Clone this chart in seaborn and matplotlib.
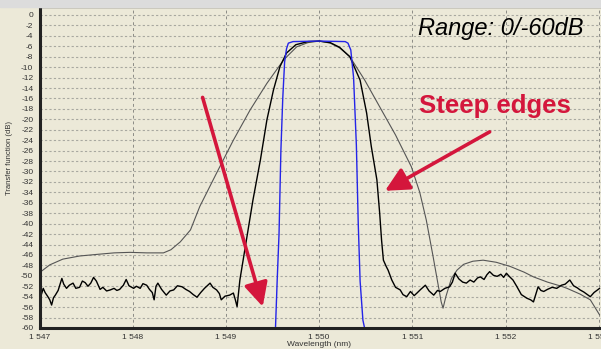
import numpy as np
import pandas as pd
import seaborn as sns
import matplotlib.pyplot as plt
from matplotlib.ticker import MultipleLocator, FuncFormatter

# Gaussian-like (wide) filter response
wide_wl = [1547.00, 1547.11, 1547.25, 1547.43, 1547.61, 1547.80, 1547.97, 1548.15, 1548.33,
           1548.41, 1548.51, 1548.62, 1548.72, 1548.81, 1548.90, 1549.08, 1549.26, 1549.44,
           1549.62, 1549.76, 1549.88, 1550.00, 1550.12, 1550.22, 1550.33, 1550.49, 1550.65,
           1550.82, 1550.99, 1551.08, 1551.15, 1551.22, 1551.27, 1551.31, 1551.33, 1551.36,
           1551.42, 1551.48, 1551.55, 1551.65, 1551.76, 1551.90, 1552.05, 1552.20, 1552.30,
           1552.45, 1552.60, 1552.66, 1552.80, 1552.91, 1553.01]
wide_db = [-49.4, -47.9, -46.8, -46.2, -45.9, -45.6, -45.5, -45.6, -45.6,
           -45.0, -43.5, -41.2, -36.7, -33.5, -30.3, -24.0, -18.2, -13.1,
           -8.6, -6.1, -5.3, -5.0, -5.4, -6.3, -8.0, -12.5, -17.6,
           -23.0, -29.1, -34.0, -39.3, -46.0, -51.0, -55.0, -56.2, -54.0,
           -50.5, -48.9, -47.8, -47.2, -47.0, -47.4, -48.2, -49.3, -50.2,
           -51.2, -52.0, -52.4, -53.5, -54.6, -57.5]

# Steep-edged filter response (measured, with noise floor)
steep_wl = [1547.00, 1547.02, 1547.04, 1547.06, 1547.09, 1547.11, 1547.13, 1547.15, 1547.17,
            1547.20, 1547.24, 1547.26, 1547.29, 1547.32, 1547.36, 1547.39, 1547.43, 1547.46,
            1547.49, 1547.52, 1547.55, 1547.58, 1547.61, 1547.65, 1547.68, 1547.72, 1547.76,
            1547.80, 1547.83, 1547.86, 1547.90, 1547.93, 1547.96, 1548.01, 1548.04, 1548.08,
            1548.11, 1548.15, 1548.18, 1548.21, 1548.23, 1548.25, 1548.27, 1548.31, 1548.36,
            1548.40, 1548.44, 1548.48, 1548.53, 1548.57, 1548.61, 1548.65, 1548.69, 1548.73,
            1548.77, 1548.83, 1548.86, 1548.90, 1548.93, 1548.95, 1548.99, 1549.04, 1549.08,
            1549.10, 1549.12, 1549.15, 1549.22, 1549.29, 1549.37, 1549.44, 1549.51, 1549.58,
            1549.65, 1549.75, 1549.88, 1550.00, 1550.12, 1550.22, 1550.33, 1550.44, 1550.51,
            1550.56, 1550.62, 1550.65, 1550.67, 1550.69, 1550.72, 1550.74, 1550.78, 1550.82,
            1550.87, 1550.90, 1550.94, 1550.98, 1551.02, 1551.05, 1551.09, 1551.14, 1551.18,
            1551.23, 1551.27, 1551.30, 1551.35, 1551.40, 1551.43, 1551.46, 1551.50, 1551.54,
            1551.58, 1551.62, 1551.66, 1551.70, 1551.73, 1551.77, 1551.80, 1551.83, 1551.87,
            1551.91, 1551.95, 1551.98, 1552.01, 1552.04, 1552.08, 1552.12, 1552.17, 1552.23,
            1552.27, 1552.30, 1552.35, 1552.38, 1552.41, 1552.45, 1552.50, 1552.55, 1552.60,
            1552.64, 1552.69, 1552.73, 1552.77, 1552.80, 1552.84, 1552.88, 1552.91, 1552.95,
            1553.01]
steep_db = [-53.0, -53.6, -52.4, -53.2, -54.0, -54.6, -55.6, -54.2, -53.7,
            -52.8, -50.5, -51.6, -52.4, -51.8, -51.4, -52.4, -52.2, -51.0,
            -51.3, -52.0, -51.4, -50.3, -51.0, -52.6, -52.2, -52.9, -52.7,
            -52.4, -52.8, -52.6, -51.8, -50.7, -51.9, -52.4, -52.0, -52.4,
            -51.5, -51.8, -52.6, -53.2, -54.6, -52.0, -51.4, -52.6, -53.7,
            -52.9, -52.7, -51.9, -52.1, -52.6, -53.0, -53.6, -54.1, -53.2,
            -52.4, -51.4, -52.2, -52.7, -53.4, -54.6, -53.9, -53.7, -53.3,
            -54.5, -55.9, -50.8, -43.1, -35.5, -27.8, -20.1, -14.4, -9.9,
            -7.3, -5.7, -5.1, -5.0, -5.3, -6.2, -8.0, -12.5, -18.8,
            -25.2, -31.6, -38.0, -43.1, -47.0, -48.2, -48.9, -50.8, -52.2,
            -52.7, -53.6, -54.0, -53.0, -53.8, -53.3, -52.6, -51.8, -52.9,
            -53.7, -52.8, -53.0, -52.4, -52.1, -51.2, -49.5, -50.6, -51.2,
            -51.4, -50.8, -51.2, -50.4, -50.2, -50.7, -49.8, -49.2, -49.9,
            -50.1, -49.7, -50.3, -49.5, -50.1, -50.8, -52.0, -53.6, -54.3,
            -54.6, -55.0, -52.1, -52.8, -53.0, -52.6, -52.2, -52.4, -51.8,
            -51.6, -50.8, -51.9, -52.3, -52.7, -53.1, -53.6, -54.0, -53.2,
            -52.4]

# Ideal flat-top filter
flat_wl = [1549.53, 1549.55, 1549.57, 1549.59, 1549.61, 1549.63, 1549.65, 1549.67, 1549.72,
           1550.00, 1550.28, 1550.31, 1550.34, 1550.37, 1550.40, 1550.42, 1550.44, 1550.47, 1550.50]
flat_db = [-61.0, -51.0, -42.0, -26.0, -16.0, -9.0, -6.5, -5.4, -5.1,
           -5.0, -5.1, -5.4, -6.7, -12.0, -25.0, -40.0, -51.0, -58.5, -61.0]

beige = '#ECE9D8'
red = '#D4163C'

sns.set_theme(style='white')
plt.rcParams['font.family'] = ['Liberation Sans', 'DejaVu Sans']

fig = plt.figure(figsize=(6.01, 3.49), dpi=100, facecolor=beige)
fig.patches.append(plt.Rectangle((0, 0.98), 1, 0.02, transform=fig.transFigure,
                                 color='#DCDCDC', zorder=0))
ax = fig.add_axes([39.5 / 601, 21 / 349, 561.5 / 601, 321 / 349])
ax.set_facecolor(beige)

sns.lineplot(x=wide_wl, y=wide_db, ax=ax, color='#555555', lw=0.8, estimator=None)
sns.lineplot(x=steep_wl, y=steep_db, ax=ax, color='black', lw=1.0, estimator=None)
sns.lineplot(x=flat_wl, y=flat_db, ax=ax, color='#2424E8', lw=1.0, estimator=None)

ax.set_xlim(1547, 1547 + 561.5 / 93.2)
ax.set_ylim(-60, 1.53)
ax.xaxis.set_major_locator(MultipleLocator(1))
ax.xaxis.set_minor_locator(MultipleLocator(0.2))
ax.yaxis.set_major_locator(MultipleLocator(2))
ax.xaxis.set_major_formatter(FuncFormatter(lambda v, p: '1 %03d' % (int(round(v)) - 1000)))
ax.yaxis.set_major_formatter(FuncFormatter(lambda v, p: '%d' % int(round(v))))
ax.tick_params(axis='both', labelsize=6, colors='#333333', length=3, width=0.6, pad=1.5)
ax.tick_params(axis='x', which='minor', length=2, width=0.5, color='#666666')

ax.grid(axis='y', color='#A8A8A0', ls=(0, (2, 2)), lw=0.8)
ax.grid(axis='x', color='#8C8C86', ls=(0, (3, 3)), lw=0.7)

for side in ['left', 'bottom']:
    ax.spines[side].set_linewidth(2.2)
    ax.spines[side].set_color('#222222')
ax.spines['top'].set_linewidth(1)
ax.spines['top'].set_color('#333333')
ax.spines['right'].set_visible(False)

ax.set_xlabel('')
ax.set_ylabel('')
fig.text(10 / 601, 1 - 158 / 349, 'Transfer function (dB)', rotation=90, fontsize=5.5,
         color='#333333', ha='center', va='center')
fig.text(319 / 601, 1 - 345 / 349, 'Wavelength (nm)', fontsize=6, color='#333333',
         ha='center', va='center')

fig.text(418 / 601, 1 - 28 / 349, 'Range: 0/-60dB', fontsize=17, style='italic',
         color='black', ha='left', va='center')
fig.text(419 / 601, 1 - 106 / 349, 'Steep edges', fontsize=18.5, fontweight='bold',
         color=red, ha='left', va='center')

arrow = dict(arrowstyle='-|>,head_length=0.9,head_width=0.45', color=red, lw=2.6,
             mutation_scale=16, shrinkA=0, shrinkB=0)
ax.annotate('', xy=(1549.395, -55.9), xytext=(1548.75, -15.8), arrowprops=arrow)
ax.annotate('', xy=(1550.707, -33.7), xytext=(1551.83, -22.4), arrowprops=arrow)

fig.savefig('out.png', dpi=100, facecolor=beige)
